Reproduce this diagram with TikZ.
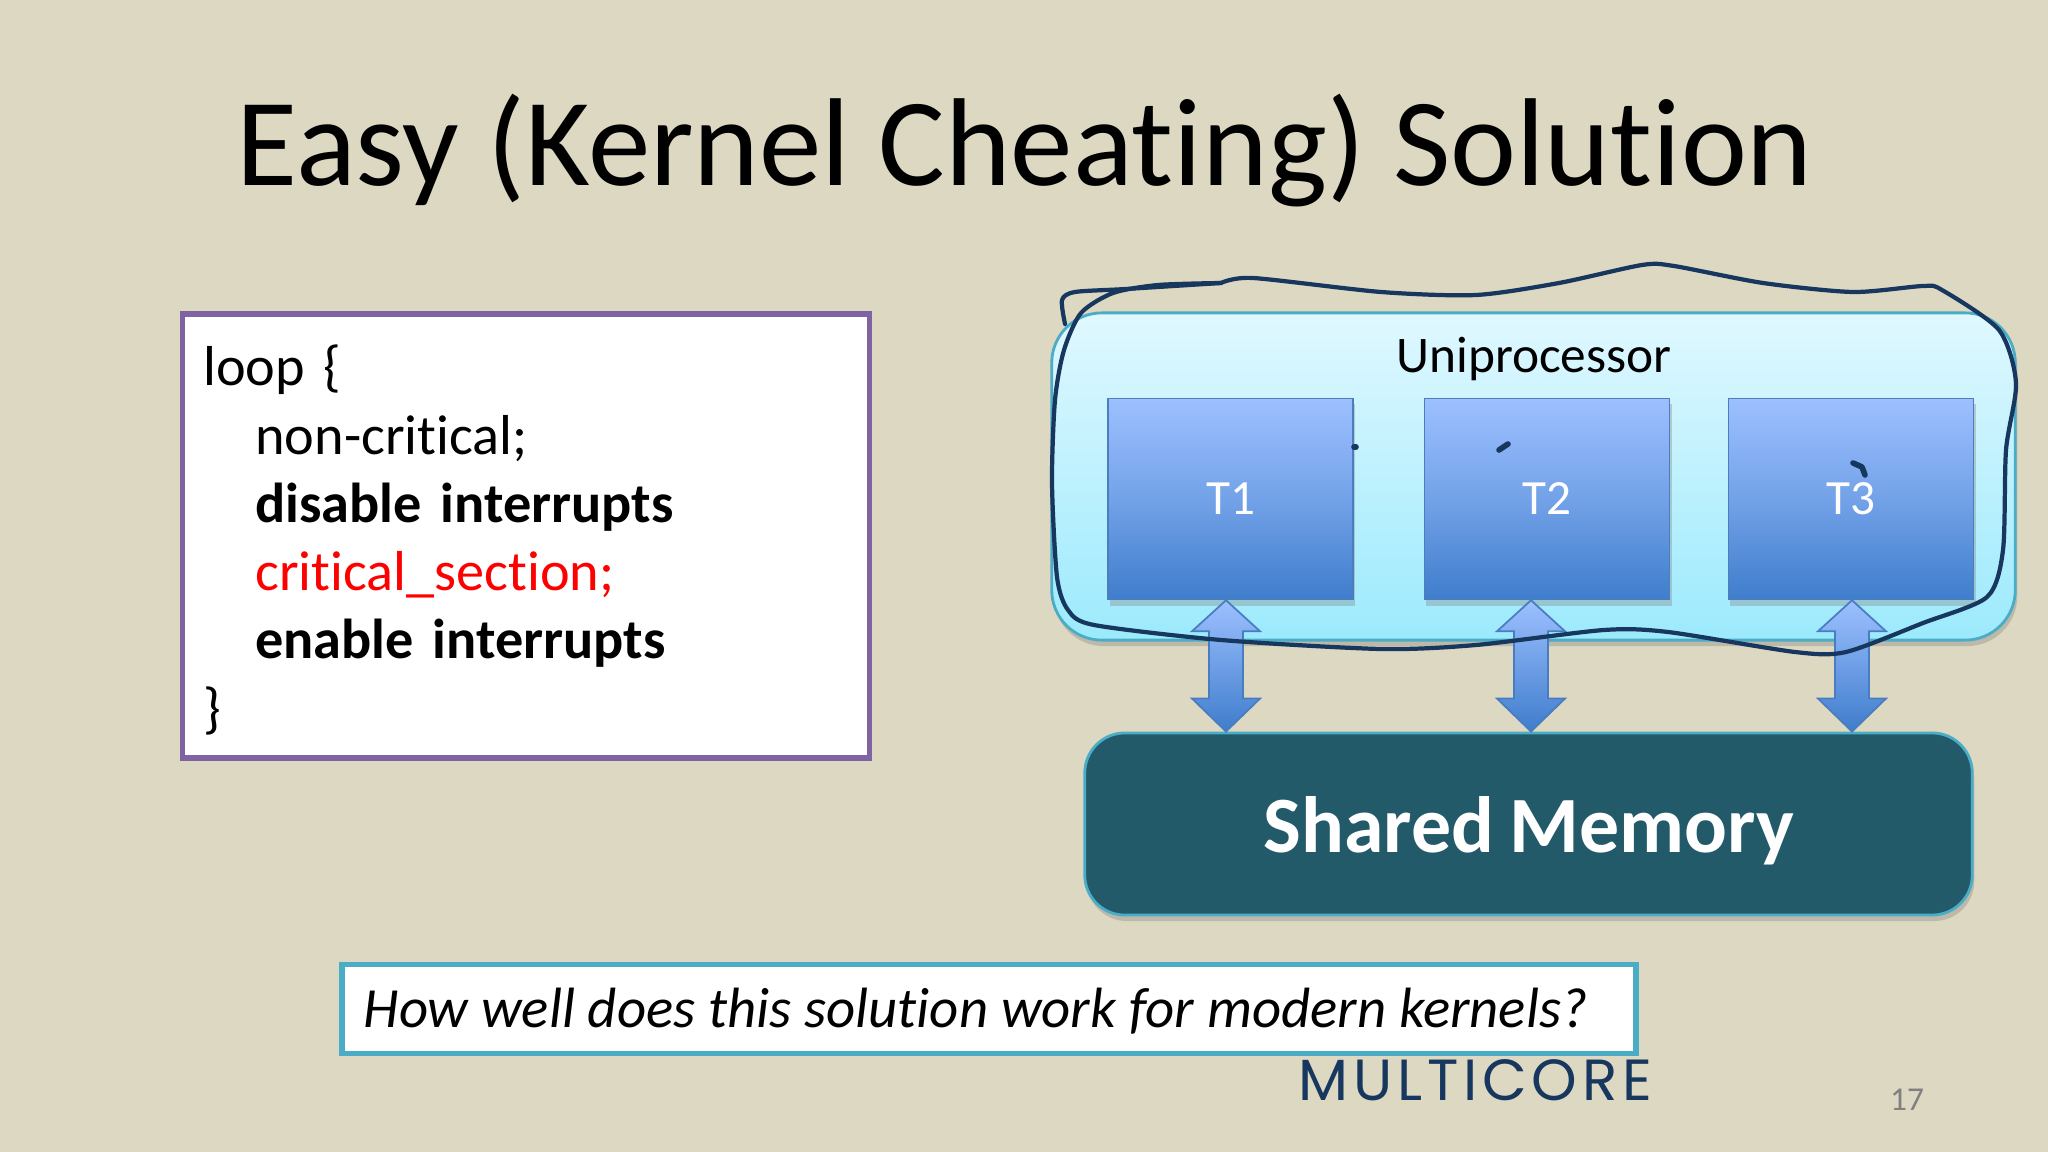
\documentclass[tikz,border=0pt]{standalone}
\usepackage{fontspec}
\setmainfont{Carlito}[Ligatures=NoCommon,BoldFeatures={WordSpace=0.85}]
\newfontfamily\handfont{Poppins}[LetterSpace=8.2]
\usetikzlibrary{calc,shadows}
\definecolor{slidebg}{HTML}{DDD8C2}
\definecolor{teal}{HTML}{4BACC6}
\definecolor{inkblue}{HTML}{17375E}
\definecolor{memfill}{HTML}{235A6A}
\definecolor{purpleline}{HTML}{8064A2}
\definecolor{tasktop}{HTML}{9DC0FF}
\definecolor{taskbot}{HTML}{3F7DCC}
\definecolor{unitop}{HTML}{E0F8FF}
\definecolor{unibot}{HTML}{9CEAFD}
\tikzset{
  softshadow/.style={drop shadow={shadow xshift=.02cm,shadow yshift=-.06cm,opacity=.35}},
  taskbox/.style={draw=taskbot!80!gray,top color=tasktop,bottom color=taskbot,middle color=tasktop!55!taskbot,
    minimum width=2.45cm,minimum height=2.01cm,inner sep=0pt,text=white,softshadow,
    font=\fontsize{14}{17}\selectfont},
  dblarrow/.style={draw=taskbot!85!gray,top color=tasktop,bottom color=taskbot,line width=.5pt},
  ink/.style={draw=inkblue,line width=1.2pt,line cap=round,line join=round}
}
\begin{document}
\begin{tikzpicture}[x=.01cm,y=-.01cm]
  \fill[slidebg] (0,0) rectangle (2048,1152);
  \useasboundingbox (0,0) rectangle (2048,1152);

  \node[anchor=base,font=\fontsize{35.55}{42}\selectfont] (title) at (1025,186) {Easy (Kernel Cheating) Solution};

  \node[draw=purpleline,line width=1.5pt,fill=white,minimum width=6.86cm,minimum height=4.44cm,inner sep=0pt] (code) at (526,536) {};
  \node[text width=6.45cm,inner sep=0pt,align=left,font=\fontsize{16}{19.4}\selectfont] (codetext) at (526,540)
    {loop \{\\
    \hspace*{.52cm}non-critical;\\
    \hspace*{.52cm}\textbf{disable interrupts}\\
    \hspace*{.52cm}\textcolor{red}{critical\_section;}\\
    \hspace*{.52cm}\textbf{enable interrupts}\\
    \}};

  \node[draw=teal,line width=.8pt,top color=unitop,bottom color=unibot,rounded corners=.5cm,
    minimum width=9.63cm,minimum height=3.27cm,softshadow] (uni) at (1533.5,476.5) {};
  \node[anchor=base,font=\fontsize{14.6}{17}\selectfont] (unilabel) at (1534,373) {Uniprocessor};

  \node[taskbox] (t1) at (1230.5,499) {T1};
  \node[taskbox] (t2) at (1547,499) {T2};
  \node[taskbox] (t3) at (1851,499) {T3};

  \node[draw=teal,line width=.8pt,fill=memfill,rounded corners=.4cm,minimum width=8.87cm,minimum height=1.82cm,
    softshadow] (mem) at (1528.5,824) {};
  \node[anchor=base,text=white,font=\bfseries\fontsize{22.7}{28}\selectfont] (memlabel) at (1529,852) {Shared Memory};

  \foreach \from/\off in {t1/-4.5,t2/-16,t3/1}
    \path[dblarrow] ($(\from.south)+(\off,0)$) coordinate (top) -- ++(34,31) -- ++(-17,0)
      -- ($(top |- mem.north)+(17,-33)$) -- ++(17,0) -- (top |- mem.north) -- ++(-34,-33) -- ++(17,0)
      -- ($(top)+(-17,31)$) -- ++(-17,0) -- cycle;

  \node[draw=teal,line width=1.5pt,fill=white,minimum width=12.93cm,minimum height=.89cm,inner sep=0pt] (ask) at (989,1009) {};
  \node[anchor=base west,inner sep=0pt,font=\itshape\fontsize{16.15}{19}\selectfont] (asklabel) at (363,1027) {How well does this solution work for modern kernels?};

  \node[text=inkblue,anchor=base west,inner sep=0pt,font=\handfont\fontsize{16.5}{20}\selectfont] (multi) at (1298,1100) {MULTICORE};
  \node[text=gray,anchor=base,font=\fontsize{9.5}{11}\selectfont] (page) at (1907,1110) {17};

  \draw[ink] plot[smooth,tension=.45] coordinates {(1065,324) (1062,300) (1075,292) (1126,289) (1221,283)};
  \draw[ink] plot[smooth,tension=.45] coordinates {(1221,283) (1158,285) (1113,293) (1081,313) (1064,350)
    (1055,400) (1052,483) (1057,577) (1068,610) (1094,625) (1221,640) (1381,649) (1476,645) (1604,630)
    (1668,632) (1795,652) (1846,652) (1923,623) (1987,597) (2003,550) (2006,450) (2016,383) (1999,330)
    (1942,290) (1923,286) (1853,292) (1763,283) (1674,266) (1642,265) (1559,283) (1476,295) (1381,292)
    (1253,278) (1221,283)};
  \draw[ink,line width=1.6pt] (1354,447) -- (1356,447);
  \draw[ink,line width=1.6pt] (1499,450) -- (1508,444);
  \draw[ink,line width=1.6pt] (1853,463) -- (1862,467) -- (1865,475);
\end{tikzpicture}
\end{document}
